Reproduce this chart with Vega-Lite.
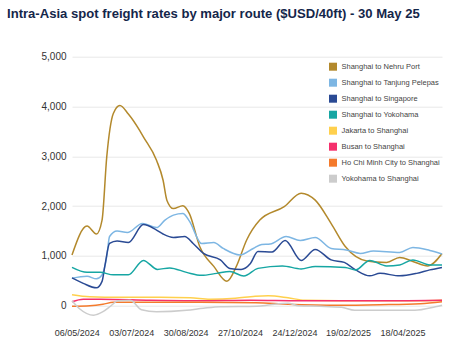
{
  "$schema": "https://vega.github.io/schema/vega-lite/v6.json",
  "width": 370,
  "height": 264,
  "autosize": {"type": "none"},
  "padding": {"left": 72, "top": 56.7, "right": 8, "bottom": 25},
  "background": "white",
  "title": {
    "text": "Intra-Asia spot freight rates by major route ($USD/40ft) - 30 May 25",
    "anchor": "start",
    "frame": "group",
    "dx": -65,
    "offset": 18,
    "baseline": "bottom",
    "font": "Liberation Sans",
    "fontSize": 13.1,
    "fontWeight": "bold",
    "color": "#14264a"
  },
  "config": {
    "view": {"stroke": null},
    "font": "Liberation Sans",
    "axisY": {"grid": true, "gridColor": "#e8e8e8", "gridWidth": 1, "domain": false, "ticks": false, "labelFontSize": 10, "labelColor": "#333333", "labelPadding": 6, "title": null},
    "axisX": {"grid": false, "domain": false, "ticks": false, "labelFontSize": 9, "labelColor": "#333333", "labelPadding": 8, "title": null},
    "legend": {"orient": "none", "legendX": 257, "legendY": 6, "symbolType": "square", "symbolSize": 16, "symbolStrokeWidth": 4, "labelFontSize": 7.5, "labelColor": "#444444", "labelOffset": 4.5, "rowPadding": -4, "padding": 0, "title": null}
  },
  "data": {"values": [
    {"date": "2024-05-01", "route": "Shanghai to Nehru Port", "rate": 1020},
    {"date": "2024-05-17", "route": "Shanghai to Nehru Port", "rate": 1600},
    {"date": "2024-05-27", "route": "Shanghai to Nehru Port", "rate": 1440},
    {"date": "2024-06-02", "route": "Shanghai to Nehru Port", "rate": 1720},
    {"date": "2024-06-07", "route": "Shanghai to Nehru Port", "rate": 2990},
    {"date": "2024-06-14", "route": "Shanghai to Nehru Port", "rate": 3860},
    {"date": "2024-06-21", "route": "Shanghai to Nehru Port", "rate": 4020},
    {"date": "2024-06-30", "route": "Shanghai to Nehru Port", "rate": 3850},
    {"date": "2024-07-12", "route": "Shanghai to Nehru Port", "rate": 3520},
    {"date": "2024-07-16", "route": "Shanghai to Nehru Port", "rate": 3390},
    {"date": "2024-07-30", "route": "Shanghai to Nehru Port", "rate": 2920},
    {"date": "2024-08-06", "route": "Shanghai to Nehru Port", "rate": 2520},
    {"date": "2024-08-10", "route": "Shanghai to Nehru Port", "rate": 2120},
    {"date": "2024-08-17", "route": "Shanghai to Nehru Port", "rate": 1950},
    {"date": "2024-08-27", "route": "Shanghai to Nehru Port", "rate": 2010},
    {"date": "2024-09-03", "route": "Shanghai to Nehru Port", "rate": 1850},
    {"date": "2024-09-14", "route": "Shanghai to Nehru Port", "rate": 1190},
    {"date": "2024-09-29", "route": "Shanghai to Nehru Port", "rate": 790},
    {"date": "2024-10-13", "route": "Shanghai to Nehru Port", "rate": 490},
    {"date": "2024-10-23", "route": "Shanghai to Nehru Port", "rate": 790},
    {"date": "2024-11-03", "route": "Shanghai to Nehru Port", "rate": 1320},
    {"date": "2024-11-17", "route": "Shanghai to Nehru Port", "rate": 1720},
    {"date": "2024-12-13", "route": "Shanghai to Nehru Port", "rate": 1990},
    {"date": "2024-12-31", "route": "Shanghai to Nehru Port", "rate": 2260},
    {"date": "2025-01-15", "route": "Shanghai to Nehru Port", "rate": 2120},
    {"date": "2025-02-01", "route": "Shanghai to Nehru Port", "rate": 1650},
    {"date": "2025-02-16", "route": "Shanghai to Nehru Port", "rate": 1190},
    {"date": "2025-03-11", "route": "Shanghai to Nehru Port", "rate": 900},
    {"date": "2025-04-01", "route": "Shanghai to Nehru Port", "rate": 870},
    {"date": "2025-04-15", "route": "Shanghai to Nehru Port", "rate": 970},
    {"date": "2025-04-29", "route": "Shanghai to Nehru Port", "rate": 890},
    {"date": "2025-05-15", "route": "Shanghai to Nehru Port", "rate": 800},
    {"date": "2025-05-30", "route": "Shanghai to Nehru Port", "rate": 1050},

    {"date": "2024-05-01", "route": "Shanghai to Tanjung Pelepas", "rate": 550},
    {"date": "2024-05-17", "route": "Shanghai to Tanjung Pelepas", "rate": 590},
    {"date": "2024-05-27", "route": "Shanghai to Tanjung Pelepas", "rate": 540},
    {"date": "2024-06-02", "route": "Shanghai to Tanjung Pelepas", "rate": 620},
    {"date": "2024-06-07", "route": "Shanghai to Tanjung Pelepas", "rate": 990},
    {"date": "2024-06-10", "route": "Shanghai to Tanjung Pelepas", "rate": 1390},
    {"date": "2024-06-18", "route": "Shanghai to Tanjung Pelepas", "rate": 1500},
    {"date": "2024-06-29", "route": "Shanghai to Tanjung Pelepas", "rate": 1470},
    {"date": "2024-07-15", "route": "Shanghai to Tanjung Pelepas", "rate": 1650},
    {"date": "2024-07-30", "route": "Shanghai to Tanjung Pelepas", "rate": 1570},
    {"date": "2024-08-08", "route": "Shanghai to Tanjung Pelepas", "rate": 1720},
    {"date": "2024-08-17", "route": "Shanghai to Tanjung Pelepas", "rate": 1820},
    {"date": "2024-08-27", "route": "Shanghai to Tanjung Pelepas", "rate": 1850},
    {"date": "2024-09-03", "route": "Shanghai to Tanjung Pelepas", "rate": 1700},
    {"date": "2024-09-16", "route": "Shanghai to Tanjung Pelepas", "rate": 1250},
    {"date": "2024-09-29", "route": "Shanghai to Tanjung Pelepas", "rate": 1270},
    {"date": "2024-10-09", "route": "Shanghai to Tanjung Pelepas", "rate": 1150},
    {"date": "2024-10-27", "route": "Shanghai to Tanjung Pelepas", "rate": 1020},
    {"date": "2024-11-10", "route": "Shanghai to Tanjung Pelepas", "rate": 1150},
    {"date": "2024-11-19", "route": "Shanghai to Tanjung Pelepas", "rate": 1230},
    {"date": "2024-11-28", "route": "Shanghai to Tanjung Pelepas", "rate": 1240},
    {"date": "2024-12-15", "route": "Shanghai to Tanjung Pelepas", "rate": 1390},
    {"date": "2024-12-30", "route": "Shanghai to Tanjung Pelepas", "rate": 1310},
    {"date": "2025-01-15", "route": "Shanghai to Tanjung Pelepas", "rate": 1370},
    {"date": "2025-02-01", "route": "Shanghai to Tanjung Pelepas", "rate": 1150},
    {"date": "2025-02-17", "route": "Shanghai to Tanjung Pelepas", "rate": 1120},
    {"date": "2025-03-04", "route": "Shanghai to Tanjung Pelepas", "rate": 1050},
    {"date": "2025-03-18", "route": "Shanghai to Tanjung Pelepas", "rate": 1100},
    {"date": "2025-04-15", "route": "Shanghai to Tanjung Pelepas", "rate": 1070},
    {"date": "2025-04-29", "route": "Shanghai to Tanjung Pelepas", "rate": 1170},
    {"date": "2025-05-17", "route": "Shanghai to Tanjung Pelepas", "rate": 1110},
    {"date": "2025-05-30", "route": "Shanghai to Tanjung Pelepas", "rate": 1040},

    {"date": "2024-05-01", "route": "Shanghai to Singapore", "rate": 560},
    {"date": "2024-05-13", "route": "Shanghai to Singapore", "rate": 450},
    {"date": "2024-05-27", "route": "Shanghai to Singapore", "rate": 360},
    {"date": "2024-06-02", "route": "Shanghai to Singapore", "rate": 490},
    {"date": "2024-06-05", "route": "Shanghai to Singapore", "rate": 800},
    {"date": "2024-06-10", "route": "Shanghai to Singapore", "rate": 1250},
    {"date": "2024-06-18", "route": "Shanghai to Singapore", "rate": 1300},
    {"date": "2024-06-30", "route": "Shanghai to Singapore", "rate": 1270},
    {"date": "2024-07-16", "route": "Shanghai to Singapore", "rate": 1630},
    {"date": "2024-07-30", "route": "Shanghai to Singapore", "rate": 1520},
    {"date": "2024-08-06", "route": "Shanghai to Singapore", "rate": 1440},
    {"date": "2024-08-17", "route": "Shanghai to Singapore", "rate": 1370},
    {"date": "2024-08-29", "route": "Shanghai to Singapore", "rate": 1390},
    {"date": "2024-09-07", "route": "Shanghai to Singapore", "rate": 1250},
    {"date": "2024-09-18", "route": "Shanghai to Singapore", "rate": 1050},
    {"date": "2024-10-06", "route": "Shanghai to Singapore", "rate": 920},
    {"date": "2024-10-16", "route": "Shanghai to Singapore", "rate": 750},
    {"date": "2024-10-28", "route": "Shanghai to Singapore", "rate": 730},
    {"date": "2024-11-07", "route": "Shanghai to Singapore", "rate": 850},
    {"date": "2024-11-15", "route": "Shanghai to Singapore", "rate": 1090},
    {"date": "2024-11-30", "route": "Shanghai to Singapore", "rate": 1080},
    {"date": "2024-12-14", "route": "Shanghai to Singapore", "rate": 1310},
    {"date": "2024-12-31", "route": "Shanghai to Singapore", "rate": 910},
    {"date": "2025-01-15", "route": "Shanghai to Singapore", "rate": 1130},
    {"date": "2025-02-01", "route": "Shanghai to Singapore", "rate": 920},
    {"date": "2025-02-15", "route": "Shanghai to Singapore", "rate": 870},
    {"date": "2025-02-27", "route": "Shanghai to Singapore", "rate": 720},
    {"date": "2025-03-14", "route": "Shanghai to Singapore", "rate": 600},
    {"date": "2025-03-25", "route": "Shanghai to Singapore", "rate": 650},
    {"date": "2025-04-15", "route": "Shanghai to Singapore", "rate": 600},
    {"date": "2025-05-03", "route": "Shanghai to Singapore", "rate": 650},
    {"date": "2025-05-17", "route": "Shanghai to Singapore", "rate": 720},
    {"date": "2025-05-30", "route": "Shanghai to Singapore", "rate": 770},

    {"date": "2024-05-01", "route": "Shanghai to Yokohama", "rate": 770},
    {"date": "2024-05-17", "route": "Shanghai to Yokohama", "rate": 670},
    {"date": "2024-05-31", "route": "Shanghai to Yokohama", "rate": 670},
    {"date": "2024-06-14", "route": "Shanghai to Yokohama", "rate": 620},
    {"date": "2024-06-30", "route": "Shanghai to Yokohama", "rate": 620},
    {"date": "2024-07-16", "route": "Shanghai to Yokohama", "rate": 910},
    {"date": "2024-07-31", "route": "Shanghai to Yokohama", "rate": 730},
    {"date": "2024-08-13", "route": "Shanghai to Yokohama", "rate": 760},
    {"date": "2024-08-31", "route": "Shanghai to Yokohama", "rate": 670},
    {"date": "2024-09-16", "route": "Shanghai to Yokohama", "rate": 610},
    {"date": "2024-10-02", "route": "Shanghai to Yokohama", "rate": 650},
    {"date": "2024-10-16", "route": "Shanghai to Yokohama", "rate": 690},
    {"date": "2024-10-31", "route": "Shanghai to Yokohama", "rate": 595},
    {"date": "2024-11-15", "route": "Shanghai to Yokohama", "rate": 750},
    {"date": "2024-12-11", "route": "Shanghai to Yokohama", "rate": 800},
    {"date": "2024-12-31", "route": "Shanghai to Yokohama", "rate": 740},
    {"date": "2025-01-15", "route": "Shanghai to Yokohama", "rate": 790},
    {"date": "2025-02-16", "route": "Shanghai to Yokohama", "rate": 770},
    {"date": "2025-02-27", "route": "Shanghai to Yokohama", "rate": 720},
    {"date": "2025-03-14", "route": "Shanghai to Yokohama", "rate": 910},
    {"date": "2025-04-01", "route": "Shanghai to Yokohama", "rate": 800},
    {"date": "2025-04-15", "route": "Shanghai to Yokohama", "rate": 820},
    {"date": "2025-04-29", "route": "Shanghai to Yokohama", "rate": 920},
    {"date": "2025-05-17", "route": "Shanghai to Yokohama", "rate": 820},
    {"date": "2025-05-30", "route": "Shanghai to Yokohama", "rate": 820},

    {"date": "2024-05-01", "route": "Jakarta to Shanghai", "rate": 220},
    {"date": "2024-05-20", "route": "Jakarta to Shanghai", "rate": 180},
    {"date": "2024-06-21", "route": "Jakarta to Shanghai", "rate": 170},
    {"date": "2024-08-03", "route": "Jakarta to Shanghai", "rate": 170},
    {"date": "2024-09-04", "route": "Jakarta to Shanghai", "rate": 160},
    {"date": "2024-09-25", "route": "Jakarta to Shanghai", "rate": 130},
    {"date": "2024-10-22", "route": "Jakarta to Shanghai", "rate": 150},
    {"date": "2024-11-12", "route": "Jakarta to Shanghai", "rate": 190},
    {"date": "2024-11-26", "route": "Jakarta to Shanghai", "rate": 200},
    {"date": "2024-12-17", "route": "Jakarta to Shanghai", "rate": 160},
    {"date": "2025-01-04", "route": "Jakarta to Shanghai", "rate": 110},
    {"date": "2025-02-10", "route": "Jakarta to Shanghai", "rate": 100},
    {"date": "2025-03-25", "route": "Jakarta to Shanghai", "rate": 100},
    {"date": "2025-05-07", "route": "Jakarta to Shanghai", "rate": 100},
    {"date": "2025-05-30", "route": "Jakarta to Shanghai", "rate": 110},

    {"date": "2024-05-01", "route": "Busan to Shanghai", "rate": 80},
    {"date": "2024-05-13", "route": "Busan to Shanghai", "rate": 130},
    {"date": "2024-05-31", "route": "Busan to Shanghai", "rate": 130},
    {"date": "2024-07-23", "route": "Busan to Shanghai", "rate": 110},
    {"date": "2024-09-14", "route": "Busan to Shanghai", "rate": 100},
    {"date": "2024-11-07", "route": "Busan to Shanghai", "rate": 110},
    {"date": "2024-12-30", "route": "Busan to Shanghai", "rate": 100},
    {"date": "2025-02-21", "route": "Busan to Shanghai", "rate": 100},
    {"date": "2025-04-15", "route": "Busan to Shanghai", "rate": 100},
    {"date": "2025-05-30", "route": "Busan to Shanghai", "rate": 110},

    {"date": "2024-05-01", "route": "Ho Chi Minh City to Shanghai", "rate": -10},
    {"date": "2024-05-20", "route": "Ho Chi Minh City to Shanghai", "rate": 0},
    {"date": "2024-06-03", "route": "Ho Chi Minh City to Shanghai", "rate": 30},
    {"date": "2024-06-14", "route": "Ho Chi Minh City to Shanghai", "rate": 70},
    {"date": "2024-07-23", "route": "Ho Chi Minh City to Shanghai", "rate": 70},
    {"date": "2024-09-14", "route": "Ho Chi Minh City to Shanghai", "rate": 70},
    {"date": "2024-11-13", "route": "Ho Chi Minh City to Shanghai", "rate": 60},
    {"date": "2024-12-17", "route": "Ho Chi Minh City to Shanghai", "rate": 30},
    {"date": "2025-02-08", "route": "Ho Chi Minh City to Shanghai", "rate": 10},
    {"date": "2025-03-25", "route": "Ho Chi Minh City to Shanghai", "rate": 20},
    {"date": "2025-05-07", "route": "Ho Chi Minh City to Shanghai", "rate": 40},
    {"date": "2025-05-30", "route": "Ho Chi Minh City to Shanghai", "rate": 80},

    {"date": "2024-05-01", "route": "Yokohama to Shanghai", "rate": 100},
    {"date": "2024-05-09", "route": "Yokohama to Shanghai", "rate": -60},
    {"date": "2024-05-24", "route": "Yokohama to Shanghai", "rate": -190},
    {"date": "2024-06-03", "route": "Yokohama to Shanghai", "rate": -120},
    {"date": "2024-06-11", "route": "Yokohama to Shanghai", "rate": -10},
    {"date": "2024-06-19", "route": "Yokohama to Shanghai", "rate": 100},
    {"date": "2024-07-02", "route": "Yokohama to Shanghai", "rate": 110},
    {"date": "2024-07-14", "route": "Yokohama to Shanghai", "rate": -80},
    {"date": "2024-07-30", "route": "Yokohama to Shanghai", "rate": -120},
    {"date": "2024-08-31", "route": "Yokohama to Shanghai", "rate": -90},
    {"date": "2024-09-18", "route": "Yokohama to Shanghai", "rate": -50},
    {"date": "2024-10-06", "route": "Yokohama to Shanghai", "rate": -20},
    {"date": "2024-11-14", "route": "Yokohama to Shanghai", "rate": -10},
    {"date": "2024-11-28", "route": "Yokohama to Shanghai", "rate": 20},
    {"date": "2024-12-17", "route": "Yokohama to Shanghai", "rate": 50},
    {"date": "2024-12-28", "route": "Yokohama to Shanghai", "rate": 0},
    {"date": "2025-01-20", "route": "Yokohama to Shanghai", "rate": -10},
    {"date": "2025-02-12", "route": "Yokohama to Shanghai", "rate": -30},
    {"date": "2025-02-26", "route": "Yokohama to Shanghai", "rate": -90},
    {"date": "2025-05-01", "route": "Yokohama to Shanghai", "rate": -90},
    {"date": "2025-05-23", "route": "Yokohama to Shanghai", "rate": -20},
    {"date": "2025-05-30", "route": "Yokohama to Shanghai", "rate": 10}
  ]},
  "mark": {"type": "line", "interpolate": "monotone", "strokeWidth": 1.5, "clip": false},
  "encoding": {
    "x": {
      "field": "date",
      "type": "temporal",
      "scale": {"type": "utc", "domain": [{"year": 2024, "month": 5, "date": 1, "utc": true}, {"year": 2025, "month": 5, "date": 30, "utc": true}]},
      "axis": {
        "format": "%d/%m/%Y",
        "values": [
          {"year": 2024, "month": 5, "date": 6, "utc": true},
          {"year": 2024, "month": 7, "date": 3, "utc": true},
          {"year": 2024, "month": 8, "date": 30, "utc": true},
          {"year": 2024, "month": 10, "date": 27, "utc": true},
          {"year": 2024, "month": 12, "date": 24, "utc": true},
          {"year": 2025, "month": 2, "date": 19, "utc": true},
          {"year": 2025, "month": 4, "date": 18, "utc": true}
        ]
      }
    },
    "y": {
      "field": "rate",
      "type": "quantitative",
      "scale": {"domain": [-300, 5000], "nice": false},
      "axis": {"values": [0, 1000, 2000, 3000, 4000, 5000], "format": ",.0f"}
    },
    "color": {
      "field": "route",
      "type": "nominal",
      "sort": null,
      "scale": {
        "domain": ["Shanghai to Nehru Port", "Shanghai to Tanjung Pelepas", "Shanghai to Singapore", "Shanghai to Yokohama", "Jakarta to Shanghai", "Busan to Shanghai", "Ho Chi Minh City to Shanghai", "Yokohama to Shanghai"],
        "range": ["#b3892c", "#7db6e3", "#2a4a94", "#16a6a3", "#ffd04d", "#f5306d", "#f47a2c", "#cccccc"]
      }
    }
  }
}
